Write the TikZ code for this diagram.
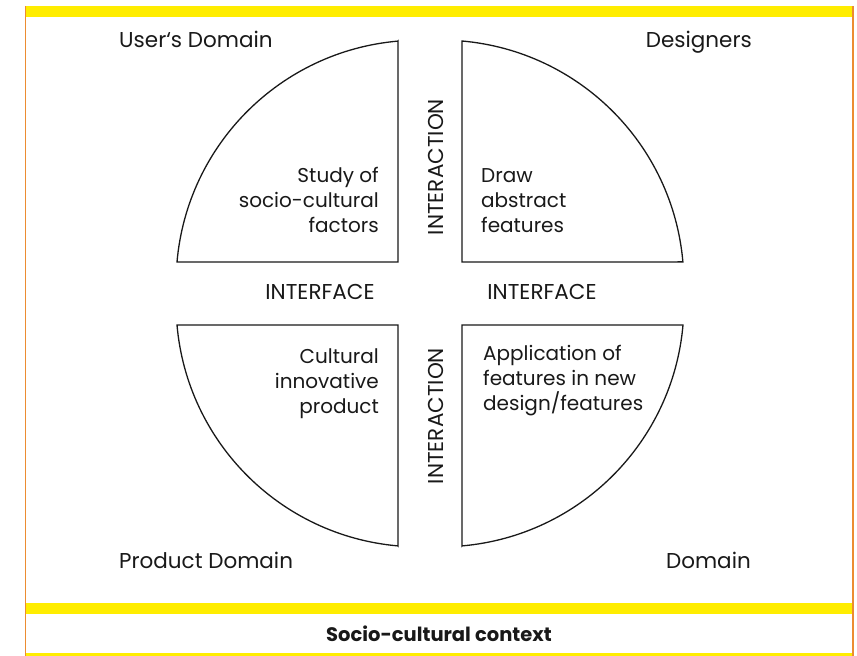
\documentclass[tikz,border=0pt]{standalone}
\usepackage{fontspec}
\setmainfont{Poppins}
\definecolor{barYellow}{HTML}{FFED00}
\definecolor{edgeOrange}{HTML}{EC8C32}
\definecolor{ink}{HTML}{191919}
\begin{document}
\begin{tikzpicture}[x=1pt,y=1pt,
  quad/.style={draw=ink, line width=1.3pt, line join=miter},
  lbl/.style={inner sep=0pt, text=ink, font=\fontsize{21.5}{25}\selectfont},
  qtxt/.style={inner sep=0pt, text=ink, font=\fontsize{20}{25}\selectfont},
  vlbl/.style={lbl, rotate=90},
  blbl/.style={inner sep=0pt, text=ink, font=\fontsize{19.5}{22}\selectfont\bfseries}]
\useasboundingbox (0,0) rectangle (857,-656);
\fill[white] (0,0) rectangle (857,-656);
% frame
\fill[barYellow] (25,-6) rectangle (853,-17);
\fill[barYellow] (25,-603) rectangle (853,-614);
\fill[barYellow] (25,-652.5) rectangle (853,-656);
\draw[edgeOrange, line width=1.4pt] (25.7,-6) -- (25.7,-656);
\draw[edgeOrange, line width=1.4pt] (853,-6) -- (853,-656);
% quadrants
\draw[quad] (398,-41) -- (398,-262) -- (177,-262) arc[start angle=175, end angle=95, radius=243] -- cycle;
\draw[quad] (462,-262) -- (462,-41) arc[start angle=85, end angle=5, radius=243] -- cycle;
\draw[quad] (398,-546) -- (398,-325) -- (177,-325) arc[start angle=185, end angle=265, radius=243] -- cycle;
\draw[quad] (462,-546) -- (462,-325) -- (683,-325) arc[start angle=-5, end angle=-85, radius=243] -- cycle;
% corner labels
\node[lbl, anchor=base west] (users) at (119,-47) {User‘s Domain};
\node[lbl, anchor=base east] (designers) at (752,-47) {Designers};
\node[lbl, anchor=base west] (product) at (119,-568) {Product Domain};
\node[lbl, anchor=base east] (domain) at (751,-568) {Domain};
% interface labels
\node[lbl, anchor=base] (ifl) at (320,-299) {INTERFACE};
\node[lbl, anchor=base] (ifr) at (542,-299) {INTERFACE};
% interaction labels
\node[vlbl] (iat) at (435.5,-167) {INTERACTION};
\node[vlbl] (iab) at (435.5,-416) {INTERACTION};
% quadrant texts (base = last line)
\node[qtxt, anchor=base east, align=right] (study) at (379,-232) {Study of\\socio-cultural\\factors};
\node[qtxt, anchor=base west, align=left] (draw) at (481,-232) {Draw\\abstract\\features};
\node[qtxt, anchor=base east, align=right] (cult) at (379,-413) {Cultural\\innovative\\product};
\node[qtxt, anchor=base west, align=left] (appl) at (483,-410) {Application of\\features in new\\design/features};
% context
\node[blbl] (ctx) at (439,-634) {Socio-cultural context};
\end{tikzpicture}
\end{document}
